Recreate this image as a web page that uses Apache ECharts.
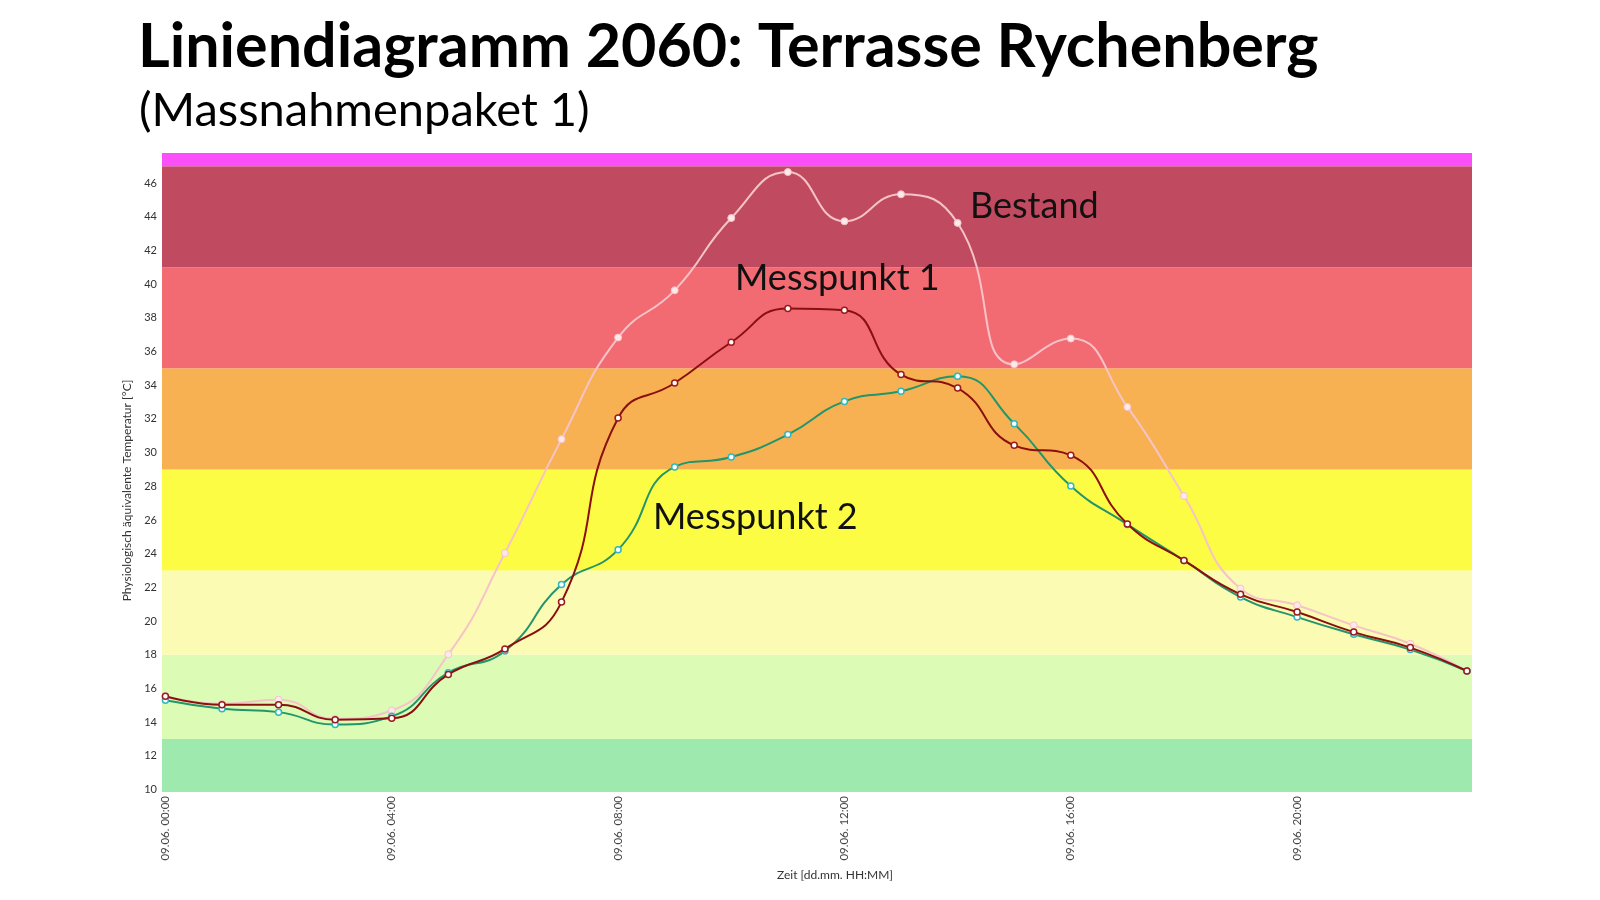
<!DOCTYPE html>
<html style="height: 100%">
<head>
<meta charset="utf-8">
</head>
<body style="height: 100%; margin: 0; background: #fff">
<div id="container" style="width: 1600px; height: 900px"></div>
<script src="https://cdn.jsdelivr.net/npm/echarts@6/dist/echarts.min.js"></script>
<script>
// hours of 09.06.
var hours = [0,1,2,3,4,5,6,7,8,9,10,11,12,13,14,15,16,17,18,19,20,21,22,23];
var bestand = [15.55, 15.1, 15.34, 14.2, 14.7, 18.03, 24.04, 30.8, 36.83, 39.63, 43.92, 46.65,
               43.73, 45.33, 43.63, 35.24, 36.77, 32.71, 27.43, 21.93, 20.94, 19.75, 18.66, 17.04];
var messpunkt1 = [15.54, 15.04, 15.04, 14.15, 14.23, 16.84, 18.35, 21.13, 32.05, 34.13, 36.55, 38.55,
                  38.45, 34.63, 33.83, 30.43, 29.84, 25.76, 23.6, 21.59, 20.54, 19.35, 18.43, 17.04];
var messpunkt2 = [15.3, 14.8, 14.6, 13.86, 14.35, 16.94, 18.23, 22.17, 24.24, 29.15, 29.74, 31.07,
                  33.04, 33.64, 34.53, 31.72, 28.02, 25.74, 23.6, 21.43, 20.24, 19.22, 18.31, 17.04];

// PET comfort bands (lower, upper, colour)
var bandLimits = [9.86, 13, 18, 23, 29, 35, 41, 47, 47.78];
var bandColors = ['#9de9ae', '#dcfcb6', '#fcfbb4', '#fdfc45', '#f8b152', '#f26b73', '#c04b61', '#fb4ffa'];

var yTicks = [10,12,14,16,18,20,22,24,26,28,30,32,34,36,38,40,42,44,46];
var xTicks = [0, 4, 8, 12, 16, 20];

function pairs(arr) {
    return arr.map(function (v, i) { return [hours[i], v]; });
}
function pad(n) { return (n < 10 ? '0' : '') + n; }

var bands = [];
for (var i = 0; i < bandColors.length; i++) {
    bands.push([{ yAxis: bandLimits[i], itemStyle: { color: bandColors[i], opacity: 1 } },
                { yAxis: bandLimits[i + 1] }]);
}

var dom = document.getElementById('container');
var myChart = echarts.init(dom);
var font = 'Lato';

var option = {
    backgroundColor: '#fff',
    animation: false,
    title: [
        { text: 'Liniendiagramm 2060: Terrasse Rychenberg', left: 133, top: 12,
          textStyle: { fontFamily: font, fontWeight: 'bold', fontSize: 61, color: '#000' } },
        { text: '(Massnahmenpaket 1)', left: 134, top: 82,
          textStyle: { fontFamily: font, fontWeight: 'normal', fontSize: 47, color: '#000' } }
    ],
    grid: { left: 162, right: 128, top: 153, bottom: 108 },
    xAxis: {
        type: 'value',
        min: -0.06,
        max: 23.09,
        name: 'Zeit [dd.mm. HH:MM]',
        nameLocation: 'middle',
        nameGap: 77,
        nameTextStyle: { fontFamily: font, fontSize: 12, color: '#333', padding: [0, 0, 0, 36] },
        axisLine: { show: false },
        axisTick: { show: false },
        splitLine: { show: false },
        axisLabel: {
            customValues: xTicks,
            rotate: 90,
            margin: 4,
            fontFamily: font,
            fontSize: 11.5,
            color: '#444',
            formatter: function (v) { return '09.06. ' + pad(v) + ':00'; }
        }
    },
    yAxis: {
        type: 'value',
        min: 9.86,
        max: 47.78,
        name: 'Physiologisch äquivalente Temperatur [°C]',
        nameLocation: 'middle',
        nameGap: 28,
        nameTextStyle: { fontFamily: font, fontSize: 12, color: '#333', padding: [0, 36, 0, 0] },
        axisLine: { show: false },
        axisTick: { show: false },
        splitLine: { show: false },
        axisLabel: {
            customValues: yTicks,
            margin: 5,
            fontFamily: font,
            fontSize: 11,
            color: '#333'
        }
    },
    series: [
        {
            name: 'Bänder',
            type: 'line',
            data: [],
            silent: true,
            markArea: { silent: true, data: bands }
        },
        {
            name: 'Messpunkt 2',
            type: 'line',
            smooth: 0.5,
            data: pairs(messpunkt2),
            symbol: 'circle',
            symbolSize: 6,
            lineStyle: { color: '#23956b', width: 2 },
            itemStyle: { color: '#ffffff', borderColor: '#2fb8bf', borderWidth: 1.5 },
            z: 3
        },
        {
            name: 'Messpunkt 1',
            type: 'line',
            smooth: 0.5,
            data: pairs(messpunkt1),
            symbol: 'circle',
            symbolSize: 6,
            lineStyle: { color: '#8a1010', width: 2 },
            itemStyle: { color: '#ffffff', borderColor: '#9b1a1a', borderWidth: 1.5 },
            z: 4
        },
        {
            name: 'Bestand',
            type: 'line',
            smooth: 0.5,
            data: pairs(bestand),
            symbol: 'circle',
            symbolSize: 7,
            lineStyle: { color: '#f6c3c8', width: 2 },
            itemStyle: { color: '#fde9ea', borderColor: '#f6c3c8', borderWidth: 1 },
            z: 2
        }
    ],
    graphic: [
        { type: 'text', left: 970, top: 188, z: 10,
          style: { text: 'Bestand', font: '36px Lato', fill: '#111' } },
        { type: 'text', left: 735, top: 260, z: 10,
          style: { text: 'Messpunkt 1', font: '36px Lato', fill: '#111' } },
        { type: 'text', left: 653, top: 499, z: 10,
          style: { text: 'Messpunkt 2', font: '36px Lato', fill: '#111' } }
    ]
};

myChart.setOption(option);
window.onresize = function () { myChart.resize(); };
</script>
</body>
</html>
